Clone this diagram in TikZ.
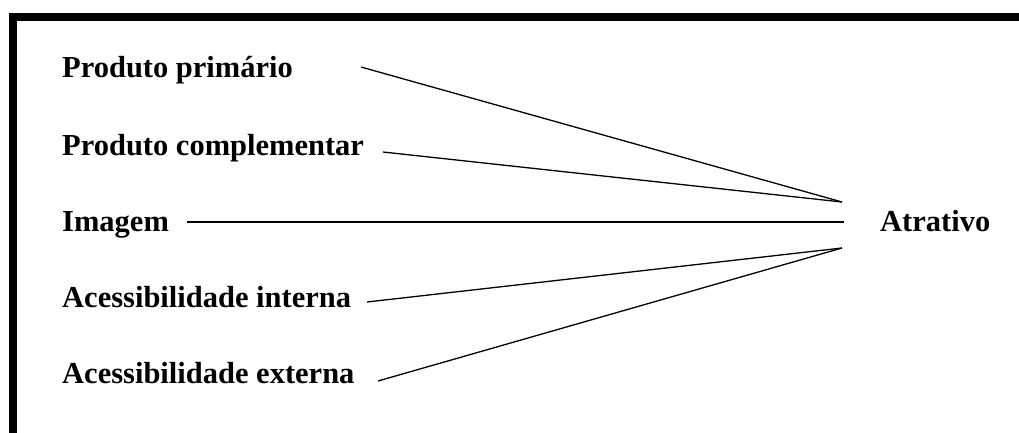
\documentclass[tikz,border=0pt]{standalone}
\usepackage{fontspec}
\setmainfont{Liberation Serif}
\begin{document}
\begin{tikzpicture}[x=1pt,y=-1pt,
  lbl/.style={anchor=base west,inner sep=0pt,font=\fontsize{30.5}{36}\selectfont\bfseries},
  conn/.style={line width=1.3pt,black},
  frame/.style={line width=8pt,black,line join=miter}]
\useasboundingbox (0,0) rectangle (1019,433);
\draw[frame] (12.5,433) -- (12.5,17) -- (1019,17);
\node[lbl] (pp) at (62,78) {Produto primário};
\node[lbl] (pc) at (62,155) {Produto complementar};
\node[lbl] (im) at (62,231) {Imagem};
\node[lbl] (ai) at (62,307) {Acessibilidade interna};
\node[lbl] (ae) at (62,383) {Acessibilidade externa};
\node[lbl] (at) at (880,231) {Atrativo};
\coordinate (pps) at (361,67);
\coordinate (pcs) at (383,152);
\coordinate (ims) at (187,222);
\coordinate (ais) at (367,302);
\coordinate (aes) at (378,381);
\coordinate (tp) at (842,202);
\coordinate (md) at (844,222);
\coordinate (bt) at (842,248);
\draw[conn] (pps) -- (tp);
\draw[conn] (pcs) -- (tp);
\draw[conn] (ims) -- (md);
\draw[conn] (ais) -- (bt);
\draw[conn] (aes) -- (bt);
\end{tikzpicture}
\end{document}
